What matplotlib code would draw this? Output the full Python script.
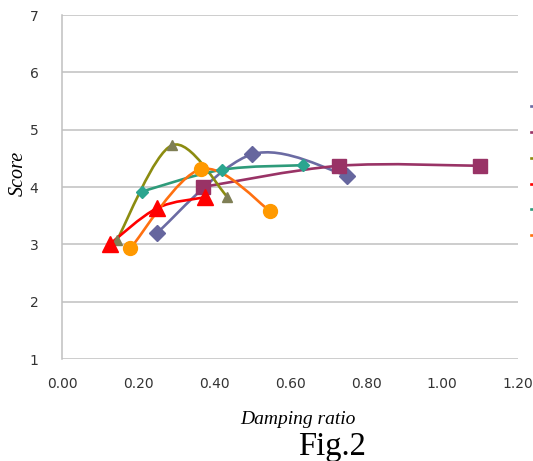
import numpy as np
import matplotlib
matplotlib.use("Agg")
import matplotlib.pyplot as plt
from matplotlib.path import Path
from matplotlib.patches import PathPatch
from matplotlib.lines import Line2D

# ---- data: damping ratio vs. evaluation score for each series ----
damping_1 = [0.25, 0.50, 0.75]
score_1 = [3.20, 4.57, 4.20]

damping_2 = [0.37, 0.73, 1.10]
score_2 = [4.00, 4.37, 4.37]

damping_3 = [0.145, 0.29, 0.435]
score_3 = [3.08, 4.73, 3.83]

damping_4 = [0.125, 0.25, 0.375]
score_4 = [3.00, 3.63, 3.82]

damping_5 = [0.21, 0.42, 0.635]
score_5 = [3.92, 4.30, 4.38]

damping_6 = [0.18, 0.365, 0.548]
score_6 = [2.93, 4.31, 3.58]

x_ticks = [0.0, 0.2, 0.4, 0.6, 0.8, 1.0, 1.2]
y_ticks = [1, 2, 3, 4, 5, 6, 7]

# ---- styles ----
styles = [
    dict(line="#6B6BA3", face="#66669E", marker="D", ms=8.5),
    dict(line="#993366", face="#993366", marker="s", ms=9.5),
    dict(line="#8C8C10", face="#7F7F55", marker="^", ms=7.0),
    dict(line="#FF0000", face="#FF0000", marker="^", ms=11.5),
    dict(line="#2E9B7A", face="#2BA58F", marker="D", ms=6.5),
    dict(line="#FF7010", face="#FF9900", marker="o", ms=10.0),
]


def smooth_path(xs, ys):
    """Bezier spline through the points (Catmull-Rom style, 1/6 tension)."""
    pts = np.column_stack([xs, ys]).astype(float)
    n = len(pts)
    verts = [pts[0]]
    codes = [Path.MOVETO]
    for i in range(n - 1):
        p0 = pts[max(i - 1, 0)]
        p1 = pts[i]
        p2 = pts[i + 1]
        p3 = pts[min(i + 2, n - 1)]
        c1 = p1 + (p2 - p0) / 6.0
        c2 = p2 - (p3 - p1) / 6.0
        verts += [c1, c2, p2]
        codes += [Path.CURVE4] * 3
    return Path(verts, codes)


fig = plt.figure(figsize=(5.33, 4.61), dpi=100)
ax = fig.add_axes([62 / 533, 1 - 359 / 461, 456 / 533, 344 / 461])

all_x = [damping_1, damping_2, damping_3, damping_4, damping_5, damping_6]
all_y = [score_1, score_2, score_3, score_4, score_5, score_6]

handles = []
for k, (xs, ys, st) in enumerate(zip(all_x, all_y, styles)):
    patch = PathPatch(smooth_path(xs, ys), facecolor="none",
                      edgecolor=st["line"], lw=1.9, zorder=3 + k * 0.1,
                      capstyle="round", joinstyle="round")
    ax.add_patch(patch)
    ax.plot(xs, ys, linestyle="none", marker=st["marker"], ms=st["ms"],
            markerfacecolor=st["face"], markeredgecolor=st["face"],
            zorder=4 + k * 0.1)
    handles.append(Line2D([], [], color=st["line"], lw=1.9,
                          marker=st["marker"], ms=st["ms"],
                          markerfacecolor=st["face"],
                          markeredgecolor=st["face"]))

ax.set_xlim(0, 1.2)
ax.set_ylim(1, 7)
ax.set_xticks(x_ticks)
ax.set_xticklabels([f"{v:.2f}" for v in x_ticks])
ax.set_yticks(y_ticks)
ax.set_yticklabels([str(v) for v in y_ticks])

ax.grid(axis="y", color="#C0C0C0", lw=1.1)
ax.set_axisbelow(True)
for side in ("top", "right", "bottom"):
    ax.spines[side].set_visible(False)
ax.spines["left"].set_color("#C0C0C0")
ax.spines["left"].set_linewidth(1.1)
ax.tick_params(axis="both", length=0, labelsize=10, labelcolor="#333333")
ax.tick_params(axis="x", pad=13)
ax.tick_params(axis="y", pad=17)

fig.text(18 / 533, 1 - 173 / 461, "Score", rotation=90, ha="center",
         va="center", family="Liberation Serif", style="italic", size=14.5)
fig.text(298 / 533, 1 - 424 / 461, "Damping ratio", ha="center",
         va="baseline", family="Liberation Serif", style="italic", size=14)
fig.text(332 / 533, 1 - 455 / 461, "Fig.2", ha="center", va="baseline",
         family="Liberation Serif", size=23.5)

# legend column sits at the right edge of the figure
fig.legend(handles, [""] * len(handles), loc="upper left",
           bbox_to_anchor=(531 / 533, 1 - 100 / 461),
           bbox_transform=fig.transFigure, frameon=False,
           borderaxespad=0, borderpad=0, handlelength=2.0,
           labelspacing=0.85, fontsize=10)

fig.savefig("out.png", dpi=100)
